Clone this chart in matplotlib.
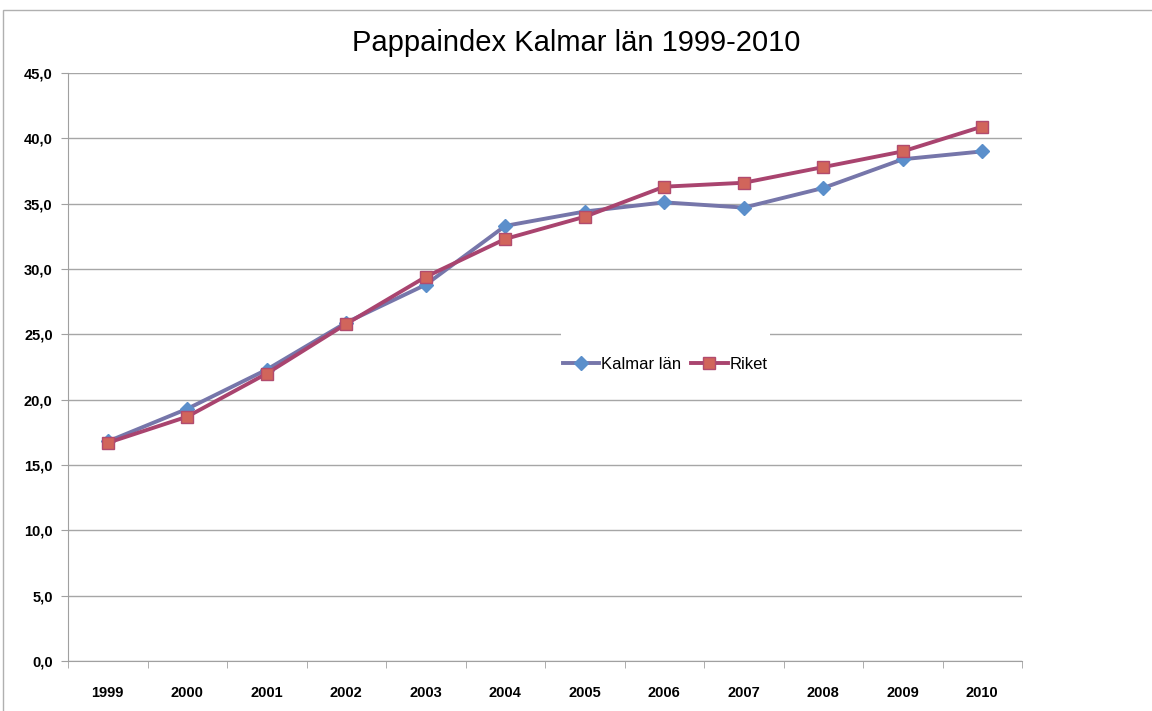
import numpy as np
import matplotlib.pyplot as plt
from matplotlib.patches import Rectangle

# Data
years = ["1999", "2000", "2001", "2002", "2003", "2004",
         "2005", "2006", "2007", "2008", "2009", "2010"]
kalmar = [16.8, 19.3, 22.3, 25.9, 28.8, 33.3, 34.4, 35.1, 34.7, 36.2, 38.4, 39.0]
riket = [16.7, 18.7, 22.0, 25.8, 29.4, 32.3, 34.0, 36.3, 36.6, 37.8, 39.0, 40.9]

plt.rcParams['font.family'] = ['Liberation Sans', 'DejaVu Sans']

fig = plt.figure(figsize=(11.52, 7.11), dpi=100)
ax = fig.add_axes([68/1152, 1 - 661/711, (1022-68)/1152, (661-73)/711])

x = np.arange(len(years))
ax.plot(x, kalmar, color="#7676AA", lw=2.8, marker="D", ms=7,
        mfc="#5B8FCB", mec="#5B8FCB", label="Kalmar län", zorder=3)
ax.plot(x, riket, color="#A9446F", lw=2.8, marker="s", ms=9,
        mfc="#D1655B", mec="#B24B6E", mew=1, label="Riket", zorder=4)

ax.set_xlim(-0.5, len(years) - 0.5)
ax.set_ylim(0, 45)
ax.set_yticks(np.arange(0, 46, 5))
ax.set_yticklabels([f"{v:.1f}".replace(".", ",") for v in np.arange(0, 46, 5)])
ax.set_xticks(x)
ax.set_xticklabels(years)
ax.set_xticks(np.arange(-0.5, len(years), 1), minor=True)
ax.tick_params(axis="x", which="major", length=0, pad=18, labelsize=10.5)
ax.tick_params(axis="x", which="minor", length=5, color="#A0A0A0", direction="out")
ax.tick_params(axis="y", length=5, color="#A0A0A0", labelsize=10.5, pad=6)
for lbl in ax.get_xticklabels() + ax.get_yticklabels():
    lbl.set_fontweight("bold")

ax.grid(axis="y", color="#A6A6A6", lw=1)
ax.set_axisbelow(True)
for s in ["top", "right"]:
    ax.spines[s].set_visible(False)
for s in ["left", "bottom"]:
    ax.spines[s].set_color("#A0A0A0")
ax.spines["bottom"].set_zorder(5)

# white box behind the legend
ax.add_patch(Rectangle(((561-68)/954, (661-396)/588), (770-561)/954, 63/588,
                       transform=ax.transAxes, facecolor="white",
                       edgecolor="none", zorder=2))
leg = ax.legend(loc="center", bbox_to_anchor=((665-68)/954, (661-364)/588),
                ncol=2, frameon=False, fontsize=12, handlelength=2.2,
                handletextpad=0.1, columnspacing=0.6)

fig.text(0.5, 1 - 43/711, "Pappaindex Kalmar län 1999-2010", ha="center",
         va="center", fontsize=21)

# outer chart border
fig.patches.append(Rectangle((3/1152, -0.01), 1.02, 1 - 10/711 + 0.01,
                             transform=fig.transFigure, fill=False,
                             edgecolor="#B0B0B0", lw=1))

fig.savefig("out.png", dpi=100)
